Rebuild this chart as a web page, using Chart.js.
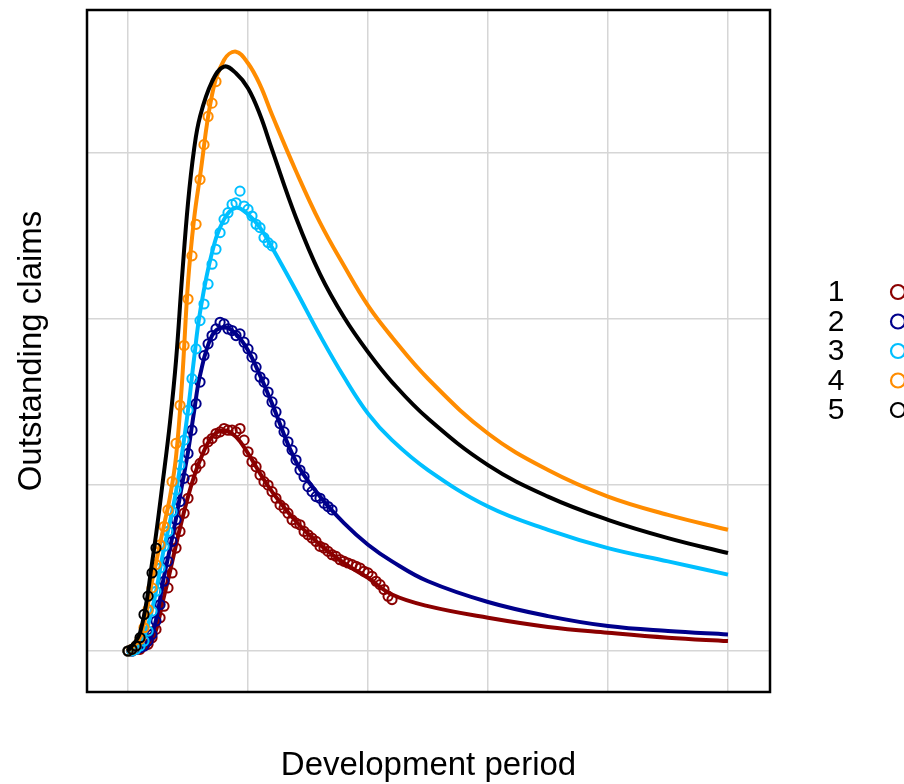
<!DOCTYPE html>
<html><head><meta charset="utf-8">
<script src="https://cdn.jsdelivr.net/npm/chart.js@4.4.0/dist/chart.umd.min.js"></script>
<style>html,body{margin:0;padding:0;background:#fff}</style>
</head><body>
<canvas id="c" width="904" height="784"></canvas>
<script>
// ---- data ----
const seriesLabels = ['1', '2', '3', '4', '5'];
const seriesColors = ['#8B0000', '#00008B', '#00BFFF', '#FF8C00', '#000000'];

// development periods of the observed points
const obsX = [0,0.33,0.67,1,1.33,1.67,2,2.33,2.67,3,3.33,3.67,4,4.33,4.67,5,5.33,5.67,6,6.33,6.67,7,7.33,7.67,8,8.33,8.67,9,9.33,9.67,10,10.33,10.67,11,11.33,11.67,12,12.33,12.67,13,13.33,13.67,14,14.33,14.67,15,15.33,15.67,16,16.33,16.67,17,17.33,17.67,18,18.33,18.67,19,19.33,19.67,20,20.33,20.67,21,21.33,21.67,22];

const obs1 = [0.00,0.00,0.01,0.01,0.03,0.04,0.08,0.13,0.20,0.27,0.38,0.47,0.62,0.72,0.83,0.92,1.03,1.10,1.13,1.21,1.26,1.28,1.31,1.32,1.34,1.33,1.33,1.32,1.34,1.27,1.20,1.14,1.11,1.06,1.02,1.00,0.96,0.92,0.88,0.86,0.83,0.79,0.77,0.76,0.72,0.70,0.68,0.66,0.63,0.62,0.60,0.58,0.57,0.55,0.54,0.53,0.52,0.51,0.50,0.48,0.47,0.45,0.42,0.40,0.37,0.33,0.31];
const obs2 = [0.00,0.00,0.01,0.02,0.03,0.06,0.10,0.18,0.28,0.42,0.54,0.66,0.79,0.90,1.04,1.19,1.33,1.49,1.62,1.78,1.85,1.90,1.94,1.98,1.97,1.94,1.93,1.90,1.91,1.86,1.82,1.77,1.71,1.65,1.62,1.56,1.50,1.44,1.37,1.32,1.26,1.21,1.15,1.09,1.05,0.99,0.96,0.93,0.92,0.89,0.87,0.85];
const obs3 = [0.00,0.00,0.01,0.03,0.06,0.12,0.24,0.36,0.50,0.63,0.72,0.84,0.97,1.12,1.27,1.45,1.64,1.82,1.99,2.09,2.21,2.33,2.42,2.52,2.60,2.64,2.69,2.70,2.77,2.68,2.66,2.62,2.57,2.55,2.49,2.46,2.44];
const obs4 = [0.00,0.01,0.03,0.07,0.14,0.25,0.38,0.52,0.64,0.75,0.85,1.02,1.25,1.48,1.84,2.12,2.38,2.57,2.84,3.05,3.22,3.30,3.43];
const obs5 = [0.00,0.01,0.03,0.08,0.22,0.33,0.47,0.62];

// fitted curves
const fitX = [0,1,2,3,3.5,4,4.5,5,5.5,6,7,8,9,10,11,12,14,16,18,20,22,25,30,35,40,45,50];
const fit1 = [0,0.01,0.06,0.33,0.48,0.64,0.79,0.93,1.05,1.15,1.29,1.33,1.29,1.19,1.07,0.96,0.78,0.64,0.53,0.44,0.34,0.27,0.20,0.145,0.11,0.08,0.06];
const fit2 = [0,0.015,0.10,0.45,0.62,0.80,1.00,1.20,1.44,1.66,1.90,1.95,1.91,1.81,1.66,1.49,1.14,0.93,0.77,0.64,0.54,0.42,0.295,0.21,0.15,0.12,0.10];
const fit3 = [0,0.04,0.25,0.62,0.78,0.96,1.19,1.45,1.76,2.04,2.40,2.60,2.67,2.63,2.55,2.43,2.17,1.90,1.65,1.43,1.27,1.09,0.87,0.73,0.62,0.54,0.46];
const fit4 = [0,0.08,0.42,0.76,0.93,1.17,1.62,2.22,2.60,2.86,3.35,3.56,3.61,3.54,3.41,3.23,2.89,2.58,2.32,2.08,1.89,1.64,1.31,1.09,0.93,0.82,0.73];
const fit5 = [0,0.11,0.53,1.08,1.38,1.75,2.25,2.70,3.02,3.22,3.43,3.52,3.48,3.39,3.23,3.02,2.61,2.27,2.01,1.80,1.62,1.40,1.12,0.93,0.79,0.68,0.59];

const xTicks = [0, 10, 20, 30, 40, 50];
const yTicks = [0, 1, 2, 3];

// ---- build datasets ----
const obsAll = [obs1, obs2, obs3, obs4, obs5];
const fitAll = [fit1, fit2, fit3, fit4, fit5];
const datasets = [];
obsAll.forEach((ys, i) => {
  datasets.push({
    label: seriesLabels[i],
    data: ys.map((y, j) => ({x: obsX[j], y})),
    showLine: false,
    pointRadius: 4.6,
    pointBorderWidth: 2,
    pointBackgroundColor: 'rgba(0,0,0,0)',
    pointBorderColor: seriesColors[i],
    borderColor: seriesColors[i],
    order: 20 - i * 2,
    isObs: true
  });
  datasets.push({
    label: seriesLabels[i] + ' fit',
    data: fitAll[i].map((y, j) => ({x: fitX[j], y})),
    showLine: true,
    pointRadius: 0,
    borderColor: seriesColors[i],
    borderWidth: 4,
    tension: 0.4,
    order: 19 - i * 2
  });
});

const framePlugin = {
  id: 'frame',
  afterDraw(chart) {
    const {ctx, chartArea: a} = chart;
    ctx.save();
    ctx.strokeStyle = '#000';
    ctx.lineWidth = 2.5;
    ctx.strokeRect(a.left, a.top, a.right - a.left, a.bottom - a.top);
    ctx.restore();
  }
};

const legendPlugin = {
  id: 'sideLegend',
  afterDraw(chart) {
    const ctx = chart.ctx;
    ctx.save();
    ctx.font = '30px "Liberation Sans", Arial, sans-serif';
    ctx.textAlign = 'center';
    ctx.textBaseline = 'middle';
    chart.data.datasets.filter(d => d.isObs).forEach((d, i) => {
      const y = 292 + i * 29.5;
      ctx.fillStyle = '#000';
      ctx.fillText(d.label, 836, y + 1);
      ctx.beginPath();
      ctx.strokeStyle = d.pointBorderColor;
      ctx.lineWidth = 2.2;
      ctx.arc(898, y, 7, 0, Math.PI * 2);
      ctx.stroke();
    });
    ctx.restore();
  }
};

new Chart(document.getElementById('c'), {
  type: 'scatter',
  data: {datasets},
  options: {
    responsive: false,
    animation: false,
    layout: {padding: {top: 10, right: 134, left: 0, bottom: 0}},
    plugins: {legend: {display: false}, tooltip: {enabled: false}},
    scales: {
      x: {
        type: 'linear', min: -3.42, max: 53.5,
        afterBuildTicks: s => { s.ticks = xTicks.map(v => ({value: v})); },
        afterFit: s => { s.height = 92; },
        ticks: {display: false},
        grid: {color: '#d6d6d6', lineWidth: 1.5, drawTicks: false},
        border: {display: false},
        title: {display: true, text: 'Development period', color: '#000',
          font: {family: '"Liberation Sans", Arial, sans-serif', size: 33},
          padding: {top: 0, bottom: -2}}
      },
      y: {
        type: 'linear', min: -0.247, max: 3.861,
        afterBuildTicks: s => { s.ticks = yTicks.map(v => ({value: v})); },
        afterFit: s => { s.width = 87; },
        ticks: {display: false},
        grid: {color: '#d6d6d6', lineWidth: 1.5, drawTicks: false},
        border: {display: false},
        title: {display: true, text: 'Outstanding claims', color: '#000',
          font: {family: '"Liberation Sans", Arial, sans-serif', size: 33},
          padding: {top: 12, bottom: 0}}
      }
    }
  },
  plugins: [framePlugin, legendPlugin]
});
</script>
</body></html>
